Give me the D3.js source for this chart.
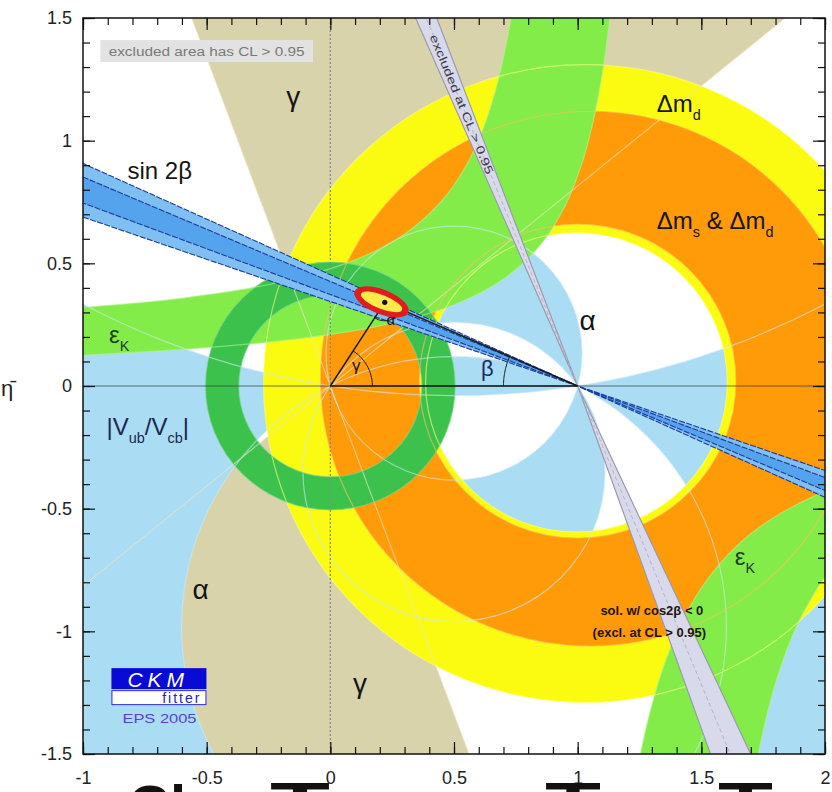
<!DOCTYPE html>
<html>
<head>
<meta charset="utf-8">
<script src="https://cdn.jsdelivr.net/npm/d3@7/dist/d3.min.js"></script>
<style>
  html, body { margin: 0; padding: 0; background: #fff; }
  svg { display: block; }
  text { font-family: "Liberation Sans", Arial, Helvetica, sans-serif; }
</style>
</head>
<body>
<svg id="plot" width="832" height="792"></svg>
<script>
// ---------- axes ----------
const rhoDomain = [-1, 2];
const etaDomain = [-1.5, 1.5];
const rhoTicks = [-1, -0.5, 0, 0.5, 1, 1.5, 2];
const etaTicks = [-1.5, -1, -0.5, 0, 0.5, 1, 1.5];
const rhoTickLabels = ["-1", "-0.5", "0", "0.5", "1", "1.5", "2"];
const etaTickLabels = ["-1.5", "-1", "-0.5", "0", "0.5", "1", "1.5"];

// ---------- constraints, CL > 0.95 (angles in degrees) ----------
const gammaRange = [39.2, 110.5];
const alphaRangeA = [75, 125];
const alphaRangeB = [153, 189];
const sin2betaOuter = [19.0, 24.4];
const sin2betaInner = [20.45, 23.07];
const cos2betaNegUpper = [110.8, 113.6];
const cos2betaNegLower = [-70.3, -65.0];

// rings: [rho centre, eta centre, radius]
const dmdOuter = [1.03, 0.01, 1.30];
const dmdInner = [0.995, 0.015, 0.61];
const dmsdOuter = [1.05, 0.03, 1.09];
const dmsdInner = [1.0, 0.02, 0.64];
const vubOuter = [0, 0, 0.505];
const vubInner = [0, 0, 0.37];

// epsilon_K band edges [rho, eta]
const epsKLeftTop = [[-1.05, 0.316], [-0.6, 0.358], [-0.2, 0.424], [0.1, 0.514], [0.3, 0.619],
  [0.45, 0.754], [0.55, 0.9], [0.62, 1.055], [0.68, 1.251], [0.72, 1.44], [0.745, 1.594]];
const epsKLeftBottom = [[-1.05, 0.123], [-0.6, 0.149], [-0.2, 0.184], [0.2, 0.245], [0.5, 0.331],
  [0.7, 0.436], [0.85, 0.576], [0.95, 0.736], [1.02, 0.916], [1.07, 1.112], [1.11, 1.342], [1.145, 1.64]];
const epsKRightInner = [[1.235, -1.6], [1.26, -1.47], [1.3, -1.30], [1.36, -1.108], [1.45, -0.907],
  [1.55, -0.755], [1.67, -0.628], [1.8, -0.532], [1.95, -0.452], [2.1, -0.393]];
const epsKRightOuter = [[1.712, -1.6], [1.75, -1.405], [1.8, -1.211], [1.85, -1.064], [1.9, -0.949],
  [1.95, -0.857], [2.0, -0.78], [2.1, -0.663]];

// global fit
const fitApex = [0.22, 0.341];
const fitCentre = [0.207, 0.343];
const fit95Axes = [0.117, 0.05];
const fit68Axes = [0.089, 0.028];

// ---------- scales ----------
const svg = d3.select("#plot");
const x = d3.scaleLinear().domain(rhoDomain).range([83, 825]);
const y = d3.scaleLinear().domain(etaDomain).range([754, 18]);
const kx = x(1) - x(0), ky = y(0) - y(1);
const deg = Math.PI / 180;
const far = 6;

const P = p => [x(p[0]), y(p[1])];
function circlePath(c) {
  const cx = x(c[0]), cy = y(c[1]), rx = c[2] * kx, ry = c[2] * ky;
  return `M${cx - rx},${cy}A${rx},${ry} 0 1 0 ${cx + rx},${cy}A${rx},${ry} 0 1 0 ${cx - rx},${cy}Z`;
}
function ray(o, a) { return [o[0] + far * Math.cos(a * deg), o[1] + far * Math.sin(a * deg)]; }
function wedge(o, r) { return "M" + [o, ray(o, r[0]), ray(o, r[1])].map(P).join("L") + "Z"; }
function doubleWedge(o, r) { return wedge(o, r) + wedge(o, [r[0] + 180, r[1] + 180]); }
function rectPath(r0, e0, r1, e1) { return "M" + [[r0, e0], [r1, e0], [r1, e1], [r0, e1]].map(P).join("L") + "Z"; }
// locus of constant alpha: circle through (0,0) and (1,0)
function alphaCircle(a) { const t = a * deg; return [0.5, 0.5 / Math.tan(t), Math.abs(0.5 / Math.sin(t))]; }
const curve = d3.line().x(d => x(d[0])).y(d => y(d[1])).curve(d3.curveCatmullRom.alpha(0.5));
function bandPath(a, b) { return curve(a) + curve(b.slice().reverse()).replace(/^M/, "L") + "Z"; }

svg.append("defs").append("clipPath").attr("id", "frameClip")
  .append("rect").attr("x", x(-1)).attr("y", y(1.5))
  .attr("width", x(2) - x(-1)).attr("height", y(-1.5) - y(1.5));

const plot = svg.append("g").attr("clip-path", "url(#frameClip)");

// ---------- filled regions ----------
const gammaPath = doubleWedge([0, 0], gammaRange);
const alphaPathA = circlePath(alphaCircle(alphaRangeA[0])) + circlePath(alphaCircle(alphaRangeA[1]));
const alphaPathB = rectPath(-1.5, -2, 2.5, 2) + circlePath(alphaCircle(alphaRangeB[0])) + circlePath(alphaCircle(alphaRangeB[1]));
const dmdPath = circlePath(dmdOuter) + circlePath(dmdInner);
const dmsdPath = circlePath(dmsdOuter) + circlePath(dmsdInner);
const epsKPathL = bandPath(epsKLeftTop, epsKLeftBottom);
const epsKPathR = bandPath(epsKRightInner, epsKRightOuter);
const vubPath = circlePath(vubOuter) + circlePath(vubInner);

const fills = [
  { d: gammaPath, fill: "#d9d3ab" },
  { d: alphaPathA, fill: "#aadcf4" },
  { d: alphaPathB, fill: "#aadcf4" },
  { d: dmdPath, fill: "#fbfb12" },
  { d: dmsdPath, fill: "#ff9a08" },
  { d: epsKPathL, fill: "#84ec48" },
  { d: epsKPathR, fill: "#84ec48" },
  { d: vubPath, fill: "#3cc24c" }
];
plot.selectAll("path.region").data(fills).join("path")
  .attr("class", "region").attr("d", d => d.d).attr("fill", d => d.fill)
  .attr("fill-rule", "evenodd").attr("stroke", "none");

// contour outlines, drawn over every filled region
const outlines = [
  { d: gammaPath, c: "#ece5c4" },
  { d: alphaPathA, c: "#cbeafa" },
  { d: circlePath(alphaCircle(alphaRangeB[0])) + circlePath(alphaCircle(alphaRangeB[1])), c: "#cbeafa" },
  { d: dmdPath, c: "#fdfd80" },
  { d: dmsdPath, c: "#ffbc66" },
  { d: curve(epsKLeftTop) + curve(epsKLeftBottom) + curve(epsKRightInner) + curve(epsKRightOuter), c: "#b4f490" },
  { d: vubPath, c: "#7ed88a" }
];
plot.selectAll("path.outline").data(outlines).join("path")
  .attr("class", "outline").attr("d", d => d.d).attr("fill", "none")
  .attr("stroke", d => d.c).attr("stroke-width", 1.2).attr("stroke-opacity", 0.6);

// axis guide lines
plot.append("line").attr("x1", x(-1)).attr("x2", x(2)).attr("y1", y(0)).attr("y2", y(0))
  .attr("stroke", "#3a3a3a").attr("stroke-width", 1).attr("stroke-opacity", 0.7);
plot.append("line").attr("x1", x(0)).attr("x2", x(0)).attr("y1", y(1.5)).attr("y2", y(-1.5))
  .attr("stroke", "#8a8a8a").attr("stroke-width", 1.3).attr("stroke-dasharray", "2,2");

// sin 2beta band through (1,0)
const apexA = [1, 0];
const sbOuter = [180 - sin2betaOuter[1], 180 - sin2betaOuter[0]];
const sbInner = [180 - sin2betaInner[1], 180 - sin2betaInner[0]];
plot.append("path").attr("d", doubleWedge(apexA, sbOuter)).attr("fill", "#80bff2");
plot.append("path").attr("d", doubleWedge(apexA, sbInner)).attr("fill", "#55a3ec");
[...sbOuter, ...sbInner].forEach(a => {
  const p0 = P(ray(apexA, a)), p1 = P(ray(apexA, a + 180));
  plot.append("line").attr("x1", p0[0]).attr("y1", p0[1]).attr("x2", p1[0]).attr("y2", p1[1])
    .attr("stroke", "#1d3a9c").attr("stroke-width", 1.1).attr("stroke-dasharray", "6,1.5");
});

// solution with cos 2beta < 0
[cos2betaNegUpper, cos2betaNegLower].forEach(r => {
  plot.append("path").attr("d", wedge(apexA, r)).attr("fill", "#d9d9ec")
    .attr("stroke", "#9a9aae").attr("stroke-width", 1.2);
  const mid = (r[0] + r[1]) / 2, pm = P(ray(apexA, mid));
  plot.append("line").attr("x1", x(1)).attr("y1", y(0)).attr("x2", pm[0]).attr("y2", pm[1])
    .attr("stroke", "#b4b4c6").attr("stroke-width", 1).attr("stroke-dasharray", "4,3");
});
{
  const mid = (cos2betaNegUpper[0] + cos2betaNegUpper[1]) / 2;
  const s = 1.24;
  const p = P([1 + s * Math.cos(mid * deg), s * Math.sin(mid * deg)]);
  const rot = Math.atan2(Math.sin(mid * deg) * ky, -Math.cos(mid * deg) * kx) / deg;
  plot.append("text").attr("transform", `translate(${p[0]},${p[1]}) rotate(${rot})`)
    .attr("text-anchor", "middle").attr("dy", "0.35em").attr("font-size", 11.5)
    .attr("fill", "#3a3a44").attr("textLength", 150).attr("lengthAdjust", "spacingAndGlyphs")
    .text("excluded at CL > 0.95");
}

// unitarity triangle
const tri = plot.append("g").attr("fill", "none").attr("stroke", "#1a1a1a");
tri.append("path").attr("d", "M" + [[0, 0], fitApex, [1, 0]].map(P).join("L")).attr("stroke-width", 1.5);
tri.append("line").attr("x1", x(0)).attr("x2", x(1)).attr("y1", y(0)).attr("y2", y(0)).attr("stroke-width", 1.6);
const gFit = Math.atan2(fitApex[1], fitApex[0]) / deg;
const bFit = Math.atan2(fitApex[1], 1 - fitApex[0]) / deg;
function arcPath(o, r, a0, a1) {
  const pts = d3.range(a0, a1 + 0.01, (a1 - a0) / 24).map(a => [o[0] + r * Math.cos(a * deg), o[1] + r * Math.sin(a * deg)]);
  return d3.line().x(d => x(d[0])).y(d => y(d[1]))(pts);
}
tri.append("path").attr("d", arcPath([0, 0], 0.17, 0, gFit)).attr("stroke-width", 1);
tri.append("path").attr("d", arcPath([1, 0], 0.3, 180 - bFit, 180)).attr("stroke-width", 1);
tri.append("path").attr("d", arcPath(fitApex, 0.075, 180 + gFit, 360 - bFit)).attr("stroke-width", 1);

// fit region
const tilt = Math.atan(Math.tan((sin2betaInner[0] + sin2betaInner[1]) / 2 * deg) * ky / kx) / deg;
plot.append("ellipse").attr("cx", x(fitCentre[0])).attr("cy", y(fitCentre[1]))
  .attr("rx", fit95Axes[0] * kx).attr("ry", fit95Axes[1] * ky)
  .attr("transform", `rotate(${tilt},${x(fitCentre[0])},${y(fitCentre[1])})`)
  .attr("fill", "#e01c1c");
plot.append("ellipse").attr("cx", x(fitCentre[0])).attr("cy", y(fitCentre[1]))
  .attr("rx", fit68Axes[0] * kx).attr("ry", fit68Axes[1] * ky)
  .attr("transform", `rotate(${tilt},${x(fitCentre[0])},${y(fitCentre[1])})`)
  .attr("fill", "#ffe84a");
plot.append("circle").attr("cx", x(fitApex[0])).attr("cy", y(fitApex[1])).attr("r", 2.6).attr("fill", "#111");

// ---------- labels ----------
function rich(g, segs, px, py, size, opts = {}) {
  const t = g.append("text").attr("x", px).attr("y", py).attr("font-size", size)
    .attr("fill", opts.fill || "#151515").attr("text-anchor", opts.anchor || "start");
  if (opts.family) t.attr("font-family", opts.family);
  let shift = 0;
  segs.forEach(([s, sub]) => {
    const want = sub ? size * 0.32 : 0;
    t.append("tspan").attr("dy", want - shift).attr("font-size", sub ? size * 0.6 : size).text(s);
    shift = want;
  });
  return t;
}
const lab = svg.append("g");
const serif = "'Liberation Serif', 'DejaVu Serif', serif";
rich(lab, [["γ"]], x(-0.15), y(1.14), 28, { anchor: "middle", family: serif });
rich(lab, [["γ"]], x(0.12), y(-1.25), 28, { anchor: "middle", family: serif });
rich(lab, [["α"]], x(1.04), y(0.228), 28, { anchor: "middle", family: serif });
rich(lab, [["α"]], x(-0.525), y(-0.87), 28, { anchor: "middle", family: serif });
rich(lab, [["α"]], x(0.245), y(0.25), 15, { anchor: "middle", family: serif });
rich(lab, [["γ"]], x(0.105), y(0.06), 17, { anchor: "middle", family: serif });
rich(lab, [["β"]], x(0.635), y(0.04), 22, { anchor: "middle", fill: "#1c2a6a" });
rich(lab, [["sin 2β"]], x(-0.82), y(0.845), 24);
rich(lab, [["ε"], ["K", 1]], x(-0.895), y(0.175), 24, { fill: "#1c3a1c" });
rich(lab, [["ε"], ["K", 1]], x(1.635), y(-0.73), 24, { fill: "#1c3a1c" });
rich(lab, [["|V"], ["ub", 1], ["/V"], ["cb", 1], ["|"]], x(-0.905), y(-0.2), 24, { fill: "#1c2850" });
rich(lab, [["Δm"], ["d", 1]], x(1.32), y(1.115), 24);
rich(lab, [["Δm"], ["s", 1], [" & Δm"], ["d", 1]], x(1.32), y(0.64), 24);
lab.append("text").attr("x", x(1.3)).attr("y", y(-0.935)).attr("font-size", 13).attr("font-weight", "bold")
  .attr("text-anchor", "middle").attr("fill", "#1e1408").text("sol. w/ cos2β < 0");
lab.append("text").attr("x", x(1.29)).attr("y", y(-1.025)).attr("font-size", 13).attr("font-weight", "bold")
  .attr("text-anchor", "middle").attr("fill", "#1e1408").text("(excl. at CL > 0.95)");

// excluded-area key
lab.append("rect").attr("x", x(-0.93)).attr("y", y(1.41)).attr("width", x(-0.07) - x(-0.93)).attr("height", 22)
  .attr("fill", "#e2e2e2");
lab.append("text").attr("x", (x(-0.93) + x(-0.07)) / 2).attr("y", y(1.41) + 15.5).attr("text-anchor", "middle")
  .attr("font-size", 12.5).attr("fill", "#7a7a7a").attr("textLength", 196).attr("lengthAdjust", "spacingAndGlyphs")
  .text("excluded area has CL > 0.95");

// group logo
const logo = svg.append("g");
logo.append("rect").attr("x", x(-0.885)).attr("y", y(-1.15)).attr("width", 95).attr("height", 21).attr("fill", "#0a0ad6");
logo.append("text").attr("x", x(-0.885) + 16).attr("y", y(-1.15) + 18.5).attr("font-size", 21)
  .attr("font-style", "italic").attr("fill", "#fff").attr("letter-spacing", 5).text("CKM");
logo.append("rect").attr("x", x(-0.885) + 0.5).attr("y", y(-1.15) + 22.5).attr("width", 94).attr("height", 14)
  .attr("fill", "#fff").attr("stroke", "#2a2ae0").attr("stroke-width", 1);
logo.append("text").attr("x", x(-0.885) + 90).attr("y", y(-1.15) + 35).attr("font-size", 14)
  .attr("text-anchor", "end").attr("fill", "#2020d8").attr("letter-spacing", 2).text("fitter");
logo.append("text").attr("x", x(-0.885) + 11).attr("y", y(-1.15) + 55).attr("font-size", 13)
  .attr("fill", "#5a40dc").attr("textLength", 74).attr("lengthAdjust", "spacingAndGlyphs").text("EPS 2005");

// ---------- axes ----------
function styleAxis(g) {
  g.select(".domain").remove();
  g.selectAll(".tick line").attr("stroke", "#111").attr("stroke-width", 1.2);
  g.selectAll(".tick text").attr("font-size", 18).attr("fill", "#222")
    .attr("font-family", "'Liberation Sans', Arial, sans-serif");
}
const ax = svg.append("g");
ax.append("g").attr("transform", `translate(0,${y(-1.5)})`)
  .call(d3.axisBottom(x).tickValues(rhoTicks).tickFormat((d, i) => rhoTickLabels[i]).tickSize(-12).tickPadding(17)).call(styleAxis);
ax.append("g").attr("transform", `translate(0,${y(-1.5)})`)
  .call(d3.axisBottom(x).ticks(30).tickFormat("").tickSize(-7)).call(styleAxis);
ax.append("g").attr("transform", `translate(0,${y(1.5)})`)
  .call(d3.axisTop(x).tickValues(rhoTicks).tickFormat("").tickSize(-12)).call(styleAxis);
ax.append("g").attr("transform", `translate(0,${y(1.5)})`)
  .call(d3.axisTop(x).ticks(30).tickFormat("").tickSize(-7)).call(styleAxis);
ax.append("g").attr("transform", `translate(${x(-1)},0)`)
  .call(d3.axisLeft(y).tickValues(etaTicks).tickFormat((d, i) => etaTickLabels[i]).tickSize(-12).tickPadding(11)).call(styleAxis);
ax.append("g").attr("transform", `translate(${x(-1)},0)`)
  .call(d3.axisLeft(y).ticks(30).tickFormat("").tickSize(-7)).call(styleAxis);
ax.append("g").attr("transform", `translate(${x(2)},0)`)
  .call(d3.axisRight(y).tickValues(etaTicks).tickFormat("").tickSize(-12)).call(styleAxis);
ax.append("g").attr("transform", `translate(${x(2)},0)`)
  .call(d3.axisRight(y).ticks(30).tickFormat("").tickSize(-7)).call(styleAxis);
ax.append("rect").attr("x", x(-1)).attr("y", y(1.5)).attr("width", x(2) - x(-1)).attr("height", y(-1.5) - y(1.5))
  .attr("fill", "none").attr("stroke", "#111").attr("stroke-width", 1.5);

// axis title (eta-bar), partly outside the page edge
svg.append("text").attr("x", 1).attr("y", 396).attr("font-size", 22)
  .attr("font-family", serif).attr("fill", "#222").text("η̄");

// heading of the next text line, cut by the page bottom
const foot = svg.append("g").attr("font-family", serif).attr("font-weight", "bold").attr("fill", "#111");
foot.append("text").attr("x", 128).attr("y", 826).attr("font-size", 58).text("Ch");
[[270, 60], [545, 56], [718, 55]].forEach(([px, w]) => {
  foot.append("text").attr("x", px).attr("y", 823).attr("font-size", 58)
    .attr("textLength", w).attr("lengthAdjust", "spacingAndGlyphs").text("T");
});
</script>
</body>
</html>
